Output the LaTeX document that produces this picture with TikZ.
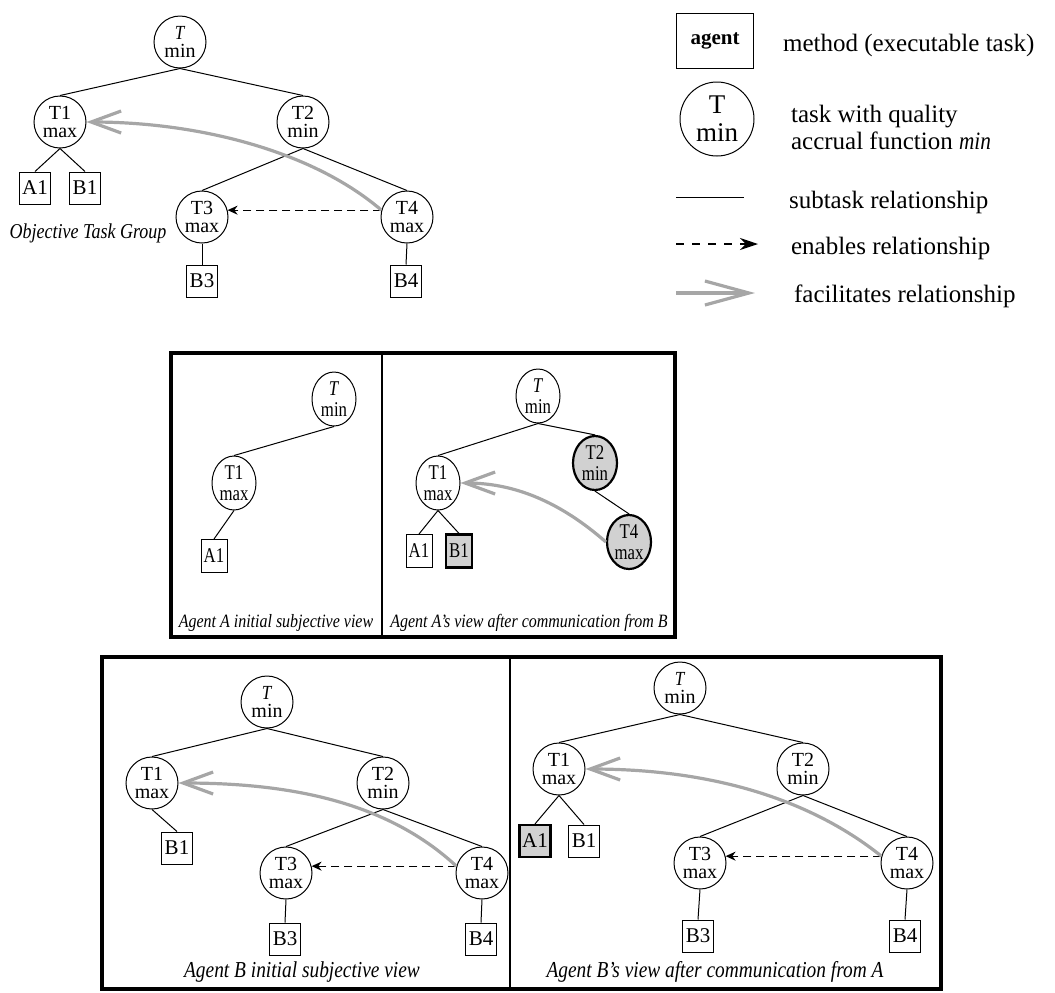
\documentclass[tikz,border=0pt]{standalone}
\usepackage{fontspec}
\setmainfont{Liberation Serif}[ItalicFeatures={FakeStretch=0.85}]
\newfontfamily\narrowfont{Liberation Serif}[FakeStretch=0.8]
\usetikzlibrary{arrows.meta,shapes.geometric,calc}
\begin{document}
\begin{tikzpicture}[x=0.5pt, y=-0.5pt,
    task/.style={circle, draw, line width=0.5pt, inner sep=0pt, minimum size=26pt, align=center, font=\fontsize{10}{9.2}\selectfont},
    ntask/.style={ellipse, draw, line width=0.5pt, inner sep=0pt, minimum width=22pt, minimum height=27pt, align=center, font=\narrowfont\fontsize{10.5}{10.5}\selectfont},
    method/.style={draw, line width=0.5pt, inner sep=0pt, minimum width=15.5pt, minimum height=16pt, font=\fontsize{10.5}{12}\selectfont},
    nmethod/.style={method, minimum width=13pt, minimum height=16.5pt, font=\narrowfont\fontsize{10.5}{12}\selectfont},
    shared/.style={fill=black!18, line width=1.1pt},
    sub/.style={line width=0.5pt},
    enables/.style={line width=0.6pt, dash pattern=on 4pt off 2.5pt, -{Stealth[length=5pt,width=4.5pt]}},
    facil/.style={draw=black!35, line width=1.6pt, -{Straight Barb[length=15pt,width=11pt]}},
    legend/.style={anchor=west, font=\fontsize{12.5}{13.5}\selectfont},
    capsmall/.style={font=\fontsize{9.4}{11}\selectfont\itshape},
    capbig/.style={font=\fontsize{11.4}{13}\selectfont\itshape}]
    \useasboundingbox (0,0) rectangle (1055,992);
    % objective task group
    \node[task] (objT) at (180,42) {\textit{T}\\min};
    \node[task] (objT1) at (60,122) {T1\\max};
    \node[task] (objT2) at (303,122) {T2\\min};
    \node[task] (objT3) at (202,217) {T3\\max};
    \node[task] (objT4) at (407,217) {T4\\max};
    \node[method] (objA1) at (35,188) {A1};
    \node[method] (objB1) at (85,188) {B1};
    \node[method] (objB3) at (202,281) {B3};
    \node[method] (objB4) at (406,281) {B4};
    \node[font=\fontsize{10.6}{13}\selectfont\itshape] (objLabel) at (88,233) {Objective Task Group};
    \foreach \u/\v in {objT/objT1, objT/objT2, objT1/objA1, objT1/objB1, objT2/objT3, objT2/objT4, objT3/objB3, objT4/objB4}
        \draw[sub] (\u.south) -- (\v.north);
    \draw[enables] (objT4.165) -- (objT3.15);
    \draw[facil] (objT4.165) .. controls ($(objT4.165)+(-70,-60)$) and ($(objT1.east)+(110,0)$) .. (objT1.east);
    % legend
    \node[draw, line width=0.5pt, minimum width=38.5pt, minimum height=27.5pt, font=\bfseries\fontsize{10.5}{12}\selectfont] (keyMethod) at (715,41) {agent};
    \node[legend] (keyMethodText) at (776,45) {method (executable task)};
    \node[circle, draw, line width=0.5pt, inner sep=0pt, minimum size=37pt, align=center, font=\fontsize{13.5}{14}\selectfont] (keyTask) at (717,119) {T\\min};
    \node[legend, align=left] (keyTaskText) at (784,127) {task with quality\\accrual function \textit{min}};
    \coordinate (keySubA) at (676,197);
    \coordinate (keySubB) at (744,197);
    \draw[sub] (keySubA) -- (keySubB);
    \node[legend] (keySubText) at (782,202) {subtask relationship};
    \coordinate (keyEnA) at (676,244);
    \coordinate (keyEnB) at (758,244);
    \draw[enables, dash pattern=on 4pt off 4pt, -{Stealth[length=9pt,width=6pt]}] (keyEnA) -- (keyEnB);
    \node[legend] (keyEnText) at (784,248) {enables relationship};
    \coordinate (keyFaA) at (676,293);
    \coordinate (keyFaB) at (755,293);
    \draw[facil, -{Straight Barb[length=22pt,width=12pt]}] (keyFaA) -- (keyFaB);
    \node[legend] (keyFaText) at (787,296) {facilitates relationship};
    % agent A views
    \draw[line width=1.6pt] (171,353) rectangle (675,637);
    \draw[line width=0.8pt] (382,353) -- (382,637);
    \node[ntask] (iniAT) at (334,399) {\textit{T}\\min};
    \node[ntask] (iniAT1) at (234,483) {T1\\max};
    \node[nmethod] (iniAA1) at (214,556) {A1};
    \foreach \u/\v in {iniAT/iniAT1, iniAT1/iniAA1}
        \draw[sub] (\u.south) -- (\v.north);
    \node[capsmall] (iniACap) at (276,623) {Agent A initial subjective view};
    \node[ntask] (comAT) at (538,396) {\textit{T}\\min};
    \node[ntask] (comAT1) at (438,483) {T1\\max};
    \node[ntask, shared] (comAT2) at (595,463) {T2\\min};
    \node[ntask, shared] (comAT4) at (629,542) {T4\\max};
    \node[nmethod] (comAA1) at (419,551) {A1};
    \node[nmethod, shared] (comAB1) at (459,551) {B1};
    \foreach \u/\v in {comAT/comAT1, comAT/comAT2, comAT2/comAT4, comAT1/comAA1, comAT1/comAB1}
        \draw[sub] (\u.south) -- (\v.north);
    \draw[facil] (comAT4.west) .. controls ($(comAT4.west)+(-40,-35)$) and ($(comAT1.east)+(60,0)$) .. (comAT1.east);
    \node[capsmall] (comACap) at (529,623) {Agent A's view after communication from B};
    % agent B views
    \draw[line width=1.6pt] (102,657) rectangle (941,989);
    \draw[line width=0.8pt] (510,657) -- (510,989);
    \node[task] (iniBT) at (267,702) {\textit{T}\\min};
    \node[task] (iniBT1) at (152,783) {T1\\max};
    \node[task] (iniBT2) at (383,783) {T2\\min};
    \node[task] (iniBT3) at (286,873) {T3\\max};
    \node[task] (iniBT4) at (482,873) {T4\\max};
    \node[method] (iniBB1) at (177,848) {B1};
    \node[method] (iniBB3) at (285,939) {B3};
    \node[method] (iniBB4) at (481,939) {B4};
    \foreach \u/\v in {iniBT/iniBT1, iniBT/iniBT2, iniBT1/iniBB1, iniBT2/iniBT3, iniBT2/iniBT4, iniBT3/iniBB3, iniBT4/iniBB4}
        \draw[sub] (\u.south) -- (\v.north);
    \draw[enables] (iniBT4.165) -- (iniBT3.15);
    \draw[facil] (iniBT4.165) .. controls ($(iniBT4.165)+(-70,-65)$) and ($(iniBT1.east)+(110,0)$) .. (iniBT1.east);
    \node[capbig] (iniBCap) at (302,972) {Agent B initial subjective view};
    \node[task] (comBT) at (680,688) {\textit{T}\\min};
    \node[task] (comBT1) at (559,769) {T1\\max};
    \node[task] (comBT2) at (803,769) {T2\\min};
    \node[task] (comBT3) at (700,863) {T3\\max};
    \node[task] (comBT4) at (907,863) {T4\\max};
    \node[method, shared] (comBA1) at (535,841) {A1};
    \node[method] (comBB1) at (584,841) {B1};
    \node[method] (comBB3) at (698,936) {B3};
    \node[method] (comBB4) at (905,936) {B4};
    \foreach \u/\v in {comBT/comBT1, comBT/comBT2, comBT1/comBA1, comBT1/comBB1, comBT2/comBT3, comBT2/comBT4, comBT3/comBB3, comBT4/comBB4}
        \draw[sub] (\u.south) -- (\v.north);
    \draw[enables] (comBT4.165) -- (comBT3.15);
    \draw[facil] (comBT4.165) .. controls ($(comBT4.165)+(-75,-60)$) and ($(comBT1.east)+(120,0)$) .. (comBT1.east);
    \node[capbig] (comBCap) at (715,972) {Agent B's view after communication from A};
\end{tikzpicture}
\end{document}
